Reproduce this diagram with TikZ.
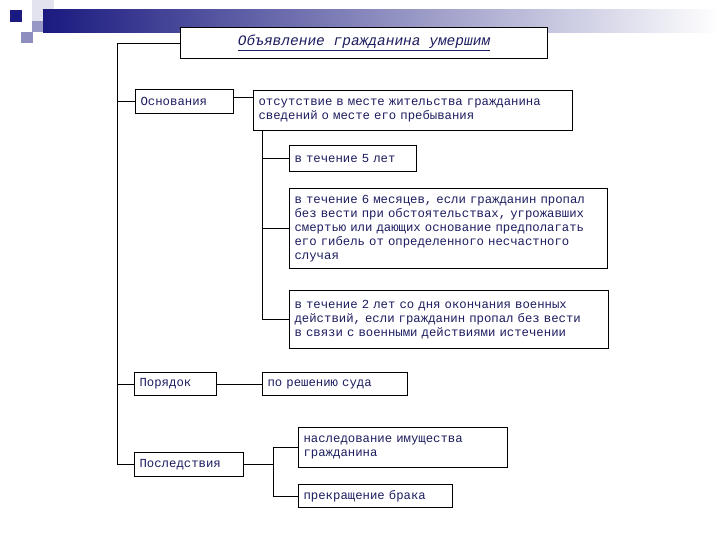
\documentclass[tikz,border=0pt]{standalone}
\usepackage{fontspec}
\setmainfont{Liberation Serif}
\setmonofont{Liberation Mono}
\definecolor{navy}{RGB}{26,26,128}
\definecolor{ink}{RGB}{28,28,96}
\tikzset{
  box/.style={draw, line width=1.2pt, fill=white, anchor=north west, align=left,
    inner xsep=5pt, inner ysep=3pt, text=ink, font=\ttfamily\fontsize{12.3}{14.2}\selectfont},
  conn/.style={draw, line width=0.9pt}
}
\begin{document}
\begin{tikzpicture}[x=1pt, y=-1pt]
    \useasboundingbox (0,0) rectangle (720,540);
    \fill[white] (0,0) rectangle (720,540);

    % Header decoration
    \fill[navy!12] (32,0) rectangle (54,22);
    \shade[left color=navy, middle color=navy!35!gray!40, right color=white] (43,10) rectangle (720,33);
    \fill[navy] (10,10) rectangle (22,22);
    \fill[navy!45] (32,21) rectangle (43,32);
    \fill[navy!50!white] (21,32) rectangle (33,43);

    % Boxes
    \node[box, minimum width=367pt, minimum height=31pt, align=center, font=\ttfamily\itshape\fontsize{14.5}{16}\selectfont] (title) at (180,27) {\underline{Объявление гражданина умершим}};

    \node[box, text width=88pt, minimum height=24pt] (osn) at (135,89) {Основания};
    \node[box, text width=309pt, minimum height=40pt] (otsut) at (253,90) {отсутствие в месте жительства гражданина\\сведений о месте его пребывания};
    \node[box, text width=117pt, minimum height=26pt] (five) at (289,145) {в течение 5 лет};
    \node[box, text width=308pt, minimum height=80pt] (six) at (289,188) {в течение 6 месяцев, если гражданин пропал\\без вести при обстоятельствах, угрожавших\\смертью или дающих основание предполагать\\его гибель от определенного несчастного\\случая};
    \node[box, text width=309pt, minimum height=58pt] (two) at (289,290) {в течение 2 лет со дня окончания военных\\действий, если гражданин пропал без вести\\в связи с военными действиями истечении};

    \node[box, text width=72pt, minimum height=23pt] (por) at (134,372) {Порядок};
    \node[box, text width=135pt, minimum height=23pt] (sud) at (262,372) {по решению суда};

    \node[box, text width=99pt, minimum height=24pt] (posl) at (134,452) {Последствия};
    \node[box, text width=199pt, minimum height=40pt] (nasl) at (298,427) {наследование имущества\\гражданина};
    \node[box, text width=144pt, minimum height=23pt] (prekr) at (298,484) {прекращение брака};

    % Connectors
    \coordinate (spine) at ([xshift=-63pt]title.west);
    \draw[conn] (title.west) -- (spine) |- (posl.west);
    \draw[conn] (spine |- osn.west) -- (osn.west);
    \draw[conn] (spine |- por.west) -- (por.west);

    \draw[conn] ([yshift=4pt]osn.east) -- ([yshift=4pt]osn.east -| otsut.west);
    \coordinate (sub) at ([xshift=9pt]otsut.south west);
    \draw[conn] (sub) |- (two.west);
    \draw[conn] (sub |- five.west) -- (five.west);
    \draw[conn] (sub |- six.west) -- (six.west);

    \draw[conn] (por.east) -- (sud.west);

    \coordinate (pb) at ([xshift=29pt]posl.east);
    \draw[conn] (posl.east) -- (pb);
    \draw[conn] (nasl.west) -| (pb) |- (prekr.west);
\end{tikzpicture}
\end{document}
